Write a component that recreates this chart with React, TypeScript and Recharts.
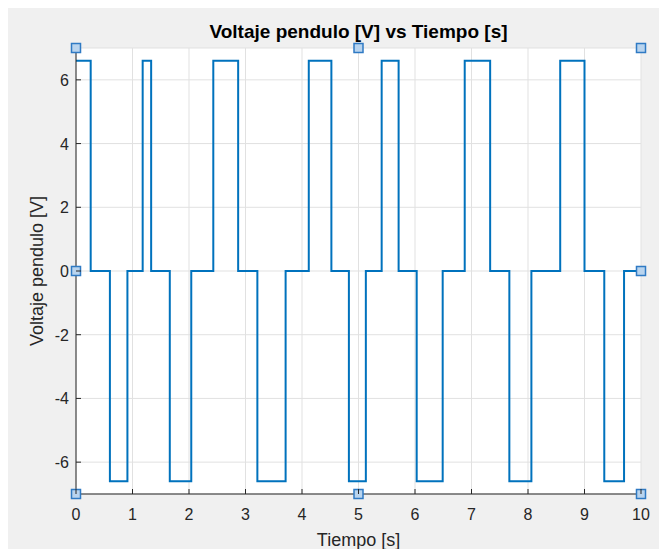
import { LineChart, Line, XAxis, YAxis, CartesianGrid, ReferenceDot } from "recharts";

// transition times [s] and the level held from each time on [V]
const times = [
  0, 0.26, 0.6, 0.91, 1.18, 1.33, 1.66, 2.04, 2.43, 2.87, 3.21, 3.71, 4.12, 4.52, 4.83,
  5.13, 5.41, 5.71, 6.03, 6.49, 6.88, 7.33, 7.67, 8.06, 8.57, 9.0, 9.35, 9.7, 10,
];
const volts = [
  6.6, 0, -6.6, 0, 6.6, 0, -6.6, 0, 6.6, 0, -6.6, 0, 6.6, 0, -6.6,
  0, 6.6, 0, -6.6, 0, 6.6, 0, -6.6, 0, 6.6, 0, -6.6, 0, 0,
];
const xTicks = [0, 1, 2, 3, 4, 5, 6, 7, 8, 9, 10];
const yTicks = [-6, -4, -2, 0, 2, 4, 6];
// edit-mode selection handles around the axes box
const handles = [
  [0, 7], [5, 7], [10, 7], [0, 0], [10, 0], [0, -7], [5, -7], [10, -7],
];

const data = times.map((t, i) => ({ t, v: volts[i] }));

const W = 651;
const H = 541;
const PL = 68;
const PT = 40;
const PR = 633;
const PB = 486;
const INK = "#262626";
const FONT = "'Liberation Sans', Arial, Helvetica, sans-serif";

const XTick = ({ x, payload }: any) => (
  <g>
    <line x1={x} x2={x} y1={PB} y2={PB - 5} stroke={INK} />
    <text x={x} y={PB + 26} textAnchor="middle" fontSize={16} fill={INK} fontFamily={FONT}>
      {payload.value}
    </text>
  </g>
);

const YTick = ({ y, payload }: any) => (
  <g>
    <line x1={PL} x2={PL + 5} y1={y} y2={y} stroke={INK} />
    <text x={PL - 7} y={y + 6} textAnchor="end" fontSize={16} fill={INK} fontFamily={FONT}>
      {payload.value}
    </text>
  </g>
);

const TopTick = ({ x }: any) => <line x1={x} x2={x} y1={PT} y2={PT + 5} stroke={INK} />;
const RightTick = ({ y }: any) => <line x1={PR} x2={PR - 5} y1={y} y2={y} stroke={INK} />;

const Handle = ({ cx, cy }: any) => (
  <rect x={cx - 4.5} y={cy - 4.5} width={9} height={9} fill="#b9d4ee" stroke="#2f7ac4" strokeWidth={1.5} />
);

export default function App() {
  return (
    <div
      style={{
        position: "fixed",
        left: 8,
        top: 8,
        width: W,
        height: H,
        background: "#f0f0f0",
      }}
    >
      <LineChart width={W} height={H} data={data} margin={{ top: PT, right: W - PR, bottom: 0, left: 0 }}>
        <CartesianGrid stroke="#e1e1e1" fill="#ffffff" vertical horizontal />
        <text x={(PL + PR) / 2} y={30} textAnchor="middle" fontSize={19} fontWeight="bold" fill="#000" fontFamily={FONT}>
          Voltaje pendulo [V] vs Tiempo [s]
        </text>
        <XAxis
          dataKey="t"
          type="number"
          domain={[0, 10]}
          ticks={xTicks}
          interval={0}
          height={H - PB}
          stroke={INK}
          tickLine={false}
          tick={<XTick />}
          label={{
            content: () => (
              <text x={(PL + PR) / 2} y={538} textAnchor="middle" fontSize={18} fill={INK} fontFamily={FONT}>
                Tiempo [s]
              </text>
            ),
          }}
        />
        <XAxis
          xAxisId="top"
          dataKey="t"
          type="number"
          orientation="top"
          domain={[0, 10]}
          ticks={xTicks}
          interval={0}
          height={0}
          stroke={INK}
          tickLine={false}
          tick={<TopTick />}
        />
        <YAxis
          type="number"
          domain={[-7, 7]}
          ticks={yTicks}
          interval={0}
          width={PL}
          stroke={INK}
          tickLine={false}
          tick={<YTick />}
          label={{
            content: () => (
              <text
                transform={`translate(35, ${(PT + PB) / 2}) rotate(-90)`}
                textAnchor="middle"
                fontSize={18}
                fill={INK}
                fontFamily={FONT}
              >
                Voltaje pendulo [V]
              </text>
            ),
          }}
        />
        <YAxis
          yAxisId="right"
          type="number"
          orientation="right"
          domain={[-7, 7]}
          ticks={yTicks}
          interval={0}
          width={0}
          stroke={INK}
          tickLine={false}
          tick={<RightTick />}
        />
        <Line
          type="stepAfter"
          dataKey="v"
          stroke="#0072BD"
          strokeWidth={2}
          dot={false}
          isAnimationActive={false}
        />
        {handles.map(([hx, hy], i) => (
          <ReferenceDot key={i} x={hx} y={hy} ifOverflow="visible" shape={<Handle />} />
        ))}
      </LineChart>
    </div>
  );
}
